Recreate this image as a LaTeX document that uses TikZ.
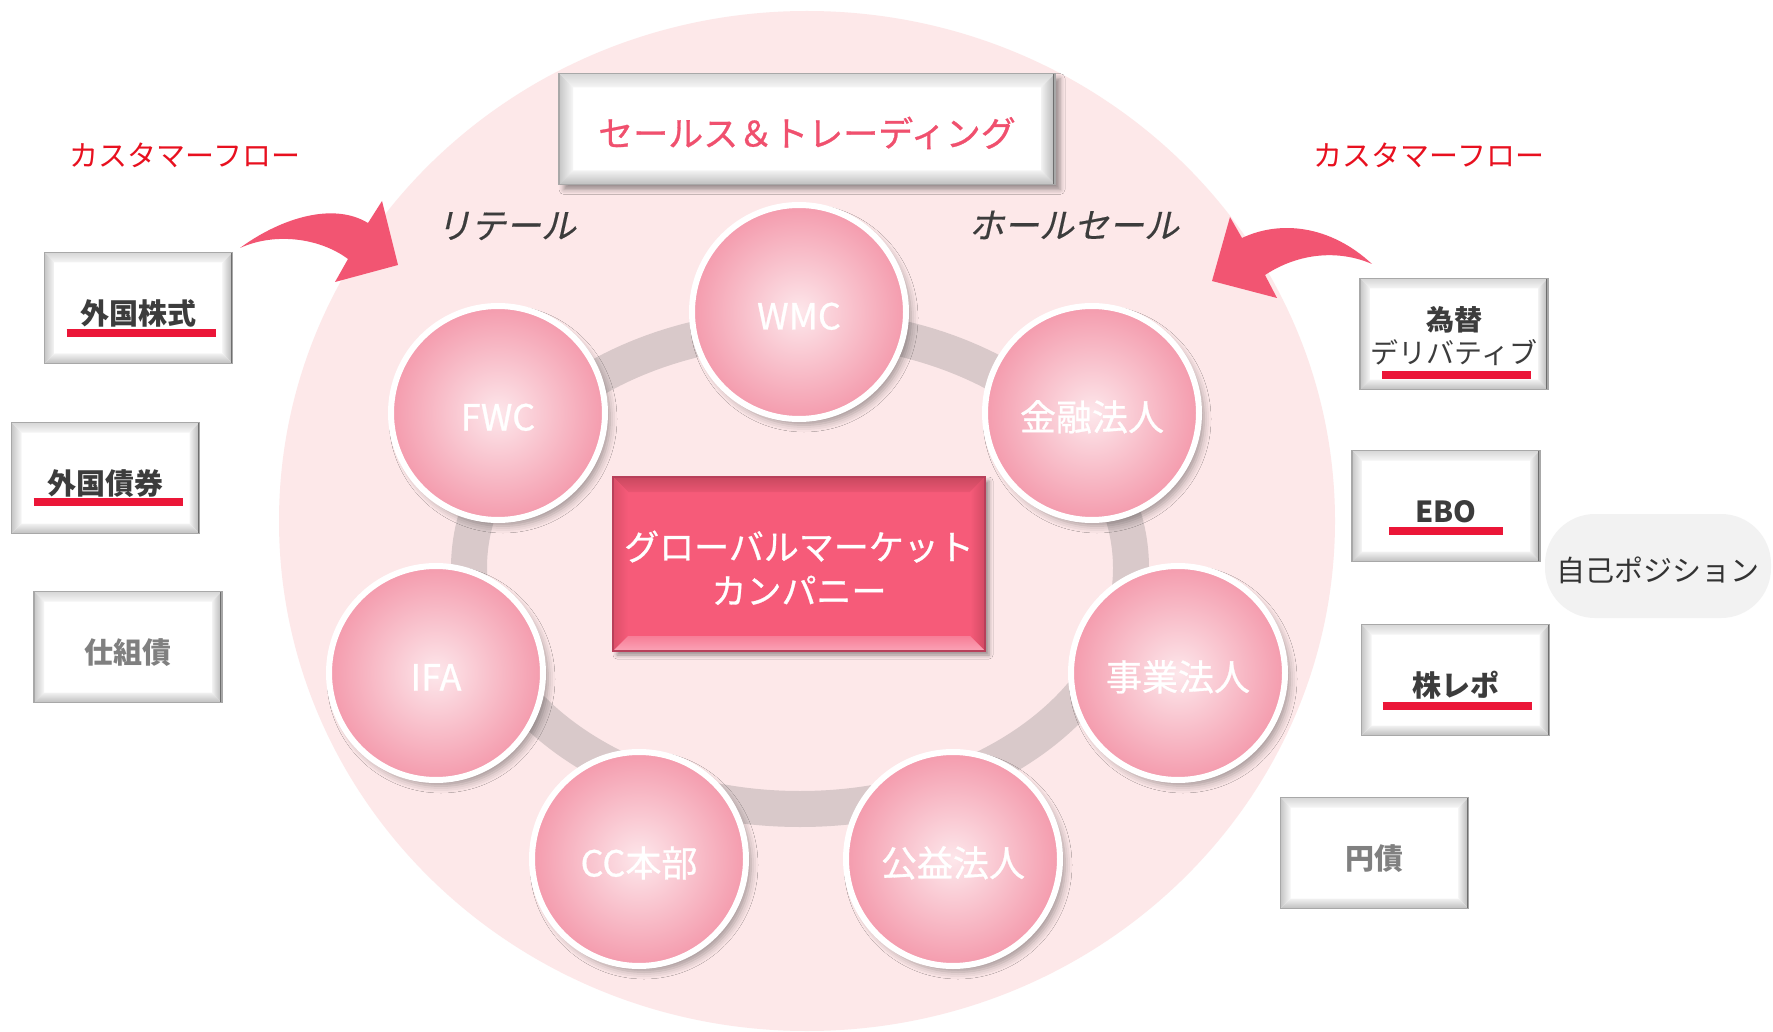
\documentclass[tikz,border=0pt]{standalone}
\usepackage{fontspec}
\setmainfont{Noto Sans CJK JP}
\newfontfamily\slfont[FakeSlant=0.22,FakeBold=0.4]{Noto Sans CJK JP}
\newfontfamily\medfont[FakeBold=0.8]{Noto Sans CJK JP}
\usetikzlibrary{shadows.blur}
\definecolor{bgpink}{HTML}{FDE8E9}
\definecolor{ringc}{HTML}{D9C9CA}
\definecolor{ballin}{HTML}{FDE7EB}
\definecolor{ballout}{HTML}{F49BAD}
\definecolor{redface}{HTML}{F65B79}
\definecolor{arrowc}{HTML}{F25572}
\definecolor{titlec}{HTML}{F0506E}
\definecolor{ulc}{HTML}{EB1638}
\definecolor{flowc}{HTML}{E8101F}
\definecolor{txtdark}{HTML}{3C3C3C}
\definecolor{txtgray}{HTML}{808080}
\definecolor{jikofill}{HTML}{F2F2F2}
\definecolor{boxedge}{HTML}{A8A8A8}
\definecolor{edgeDark}{HTML}{6E6E6E}
\definecolor{gbT}{HTML}{D6D6D6}
\definecolor{gbTi}{HTML}{F6F6F6}
\definecolor{gbL}{HTML}{C6C6C6}
\definecolor{gbLi}{HTML}{F7F7F7}
\definecolor{gbRi}{HTML}{F2F2F2}
\definecolor{gbR}{HTML}{B4B4B4}
\definecolor{gbBi}{HTML}{F2F2F2}
\definecolor{gbB}{HTML}{BEBEBE}
\definecolor{rbT}{HTML}{C9485F}
\definecolor{rbTi}{HTML}{EA5672}
\definecolor{rbL}{HTML}{DC4F69}
\definecolor{rbLi}{HTML}{F65B79}
\definecolor{rbRi}{HTML}{F65B79}
\definecolor{rbR}{HTML}{D24A63}
\definecolor{rbBi}{HTML}{F77E97}
\definecolor{rbB}{HTML}{FBA3B6}
\definecolor{redEdge}{HTML}{B8405A}
\newcommand\bvl[9]{%
 \path (path picture bounding box.north west) coordinate (pNW)
       (path picture bounding box.north east) coordinate (pNE)
       (path picture bounding box.south west) coordinate (pSW)
       (path picture bounding box.south east) coordinate (pSE);
 \path ([shift={(#1,-#1)}]pNW) coordinate (qNW)
       ([shift={(-#1,-#1)}]pNE) coordinate (qNE)
       ([shift={(#1,#1)}]pSW) coordinate (qSW)
       ([shift={(-#1,#1)}]pSE) coordinate (qSE);
 \shade[top color=#2, bottom color=#3] (pNW) -- (pNE) -- (qNE) -- (qNW) -- cycle;
 \shade[left color=#4, right color=#5] (pNW) -- (qNW) -- (qSW) -- (pSW) -- cycle;
 \shade[left color=#6, right color=#7] (pNE) -- (pSE) -- (qSE) -- (qNE) -- cycle;
 \shade[top color=#8, bottom color=#9] (pSW) -- (qSW) -- (qSE) -- (pSE) -- cycle;
}
\begin{document}
\begin{tikzpicture}[x=1pt,y=-1pt,
  ball/.style={circle, minimum size=214pt, inner sep=0pt, draw=white, line width=6pt,
    inner color=ballin, outer color=ballout, text=white, font=\medfont\fontsize{36}{42}\selectfont,
    text height=37pt, text depth=2pt,
    blur shadow={shadow xshift=5pt, shadow yshift=-6pt, shadow blur radius=7pt, shadow opacity=35}},
  gbox/.style={rectangle, minimum width=188pt, minimum height=111pt, inner sep=0pt,
    fill=white, draw=boxedge, line width=1.5pt, text=txtdark,
    font=\bfseries\fontsize{29}{33}\selectfont, align=center,
    path picture={\bvl{10pt}{gbT}{gbTi}{gbL}{gbLi}{gbRi}{gbR}{gbBi}{gbB}
      \draw[line width=4pt, edgeDark] (pNE) -- (pSE);}},
  oneline/.style={text height=35pt, text depth=2pt},
  tbox/.style={rectangle, minimum width=496pt, minimum height=111pt, inner sep=0pt,
    fill=white, draw=boxedge, line width=1.5pt, text=titlec,
    font=\medfont\fontsize{35}{40}\selectfont, text height=37pt, text depth=2pt,
    blur shadow={shadow xshift=5pt, shadow yshift=-5pt, shadow blur radius=5pt, shadow opacity=40},
    path picture={\bvl{14pt}{gbT}{gbTi}{gbL}{gbLi}{gbRi}{gbR}{gbBi}{gbB}
      \draw[line width=4pt, edgeDark] (pNE) -- (pSE);}},
  rbox/.style={rectangle, minimum width=372pt, minimum height=174pt, inner sep=0pt,
    fill=redface, draw=redEdge, line width=1.5pt, text=white, align=center,
    font=\medfont\fontsize{35}{44}\selectfont,
    blur shadow={shadow xshift=4pt, shadow yshift=-4pt, shadow blur radius=4pt, shadow opacity=40},
    path picture={\bvl{15pt}{rbT}{rbTi}{rbL}{rbLi}{rbRi}{rbR}{rbBi}{rbB}
      \draw[line width=3pt, redEdge!80!black] (pNE) -- (pSE);}},
  uline/.style={ulc, line width=8pt},
  flow/.style={text=flowc, font=\fontsize{29}{33}\selectfont, inner sep=0pt},
  seg/.style={text=txtdark, font=\slfont\fontsize{35}{40}\selectfont, inner sep=0pt}
]
\useasboundingbox (0,0) rectangle (1773,1032);
\fill[white] (0,0) rectangle (1773,1032);

% big background disc
\fill[bgpink] (807,521) ellipse [x radius=528pt, y radius=510pt];
% ring
\draw[ringc, line width=36pt] (800,568) ellipse [x radius=331pt, y radius=241pt];

% circles
\node[ball] (wmc)  at (799,312)  {WMC};
\node[ball] (fwc)  at (498,413)  {FWC};
\node[ball] (kin)  at (1092,413) {金融法人};
\node[ball] (ifa)  at (436,673)  {IFA};
\node[ball] (jig)  at (1178,673) {事業法人};
\node[ball] (cc)   at (639,859)  {CC本部};
\node[ball] (koe)  at (953,859)  {公益法人};

% center box
\node[rbox] (gmc) at (799,564) {\rule{0pt}{37pt}グローバルマーケット\\カンパニー};

% top box
\node[tbox] (st) at (807,129) {セールス＆トレーディング};

% labels
\node[flow] (cf1) at (185,155) {カスタマーフロー};
\node[flow] (cf2) at (1429,155) {カスタマーフロー};
\node[seg] (retail) at (506,226) {リテール};
\node[seg] (whole) at (1074,225) {ホールセール};

% left boxes
\node[gbox, oneline] (b1) at (138.5,308) {外国株式};
\node[gbox, oneline] (b2) at (105.5,478) {外国債券};
\node[gbox, oneline, text=txtgray] (b3) at (128,647) {仕組債};
% right boxes
\node[gbox, font=\fontsize{28}{33}\selectfont] (b4) at (1454,334) {\rule{0pt}{29pt}\textbf{為替}\\デリバティブ};
\node[gbox, oneline] (b5) at (1446,506) {EBO};
\node[gbox, oneline] (b6) at (1455.5,680) {株レポ};
\node[gbox, oneline, text=txtgray] (b7) at (1374.5,853) {円債};

% underlines
\draw[uline] ([shift={(-72pt,-25pt)}]b1.center) -- ([shift={(77pt,-25pt)}]b1.center);
\draw[uline] ([shift={(-72pt,-24pt)}]b2.center) -- ([shift={(77pt,-24pt)}]b2.center);
\draw[uline] ([shift={(-72pt,-41pt)}]b4.center) -- ([shift={(77pt,-41pt)}]b4.center);
\draw[uline] ([shift={(-57pt,-25pt)}]b5.center) -- ([shift={(57pt,-25pt)}]b5.center);
\draw[uline] ([shift={(-73pt,-26pt)}]b6.center) -- ([shift={(76pt,-26pt)}]b6.center);

% own position
\node[rectangle, rounded corners=50pt, fill=jikofill, minimum width=226pt, minimum height=104pt, inner sep=0pt,
      text=black!80, font=\fontsize{29}{33}\selectfont, text height=33pt, text depth=2pt] (jiko) at (1658,566) {自己ポジション};

% customer-flow arrows
\fill[arrowc] (240,248) .. controls (275,222) and (330,200) .. (368,223)
  -- (382,201) -- (398,265) -- (335,282) -- (348,259)
  .. controls (320,238) and (275,232) .. (240,248) -- cycle;
\fill[arrowc] (1372,264) .. controls (1330,225) and (1280,220) .. (1242,238)
  -- (1230,217) -- (1212,281) -- (1277,298) -- (1265,275)
  .. controls (1300,252) and (1340,250) .. (1372,264) -- cycle;
\end{tikzpicture}
\end{document}
